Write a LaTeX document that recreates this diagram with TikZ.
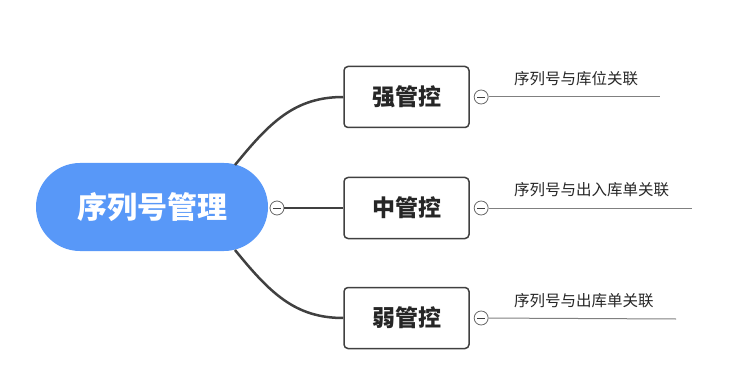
\documentclass[tikz,border=0pt]{standalone}
\usepackage{fontspec}
\setmainfont{Noto Sans CJK SC}
\usetikzlibrary{positioning}
\definecolor{rootblue}{RGB}{88,152,248}
\definecolor{linegray}{RGB}{64,64,64}
\definecolor{leafgray}{RGB}{128,128,128}
\tikzset{
    rootnode/.style={
        fill=rootblue, rounded corners=44pt,
        minimum width=232pt, minimum height=88pt,
        text=white, font=\fontsize{30}{34}\selectfont\bfseries
    },
    topicbox/.style={
        draw=linegray, line width=1.5pt, rounded corners=4pt, fill=white,
        minimum width=125pt, minimum height=61pt,
        text=black!85, font=\fontsize{23}{27}\selectfont\bfseries
    },
    fold/.style={
        circle, draw=linegray!80, line width=0.8pt, fill=white,
        minimum size=14pt, inner sep=0pt,
        path picture={\draw[linegray, line width=0.8pt]
            ([xshift=-4pt]path picture bounding box.center) --
            ([xshift=4pt]path picture bounding box.center);}
    },
    branch/.style={draw=linegray, line width=2.5pt},
    leafline/.style={draw=leafgray, line width=1pt},
    leaftext/.style={font=\fontsize{15.5}{18}\selectfont, text=black!85,
        anchor=south west, inner sep=0pt}
}
\begin{document}
\begin{tikzpicture}[x=1pt, y=-1pt]
    \useasboundingbox (0,0) rectangle (746,366);

    % Centro
    \node[rootnode] (root) at (152,207) {序列号管理};

    % Temas
    \node[topicbox] (strong) at (406.5,97)  {强管控};
    \node[topicbox] (mid)    at (406.5,208) {中管控};
    \node[topicbox] (weak)   at (406.5,318) {弱管控};

    % Ramas
    \coordinate (rtop) at (235,165);
    \coordinate (rbot) at (235,250);
    \draw[branch] (rtop) .. controls (270,122) and (295,97) .. (strong.west);
    \draw[branch] (rbot) .. controls (270,293) and (295,318) .. (weak.west);
    \node[fold] (fmid) at (277,208) {};
    \draw[branch] (fmid) -- (mid.west);

    % Hojas
    \node[fold, right=4pt of strong] (fs) {};
    \node[fold, right=4pt of mid]    (fm) {};
    \node[fold, right=4pt of weak]   (fw) {};
    \coordinate (es) at (660,97);
    \coordinate (em) at (692,208);
    \coordinate (ew) at (676,319);
    \draw[leafline] (fs) -- (es);
    \draw[leafline] (fm) -- (em);
    \draw[leafline] (fw) -- (ew);
    \node[leaftext] (ls) at (514,86)  {序列号与库位关联};
    \node[leaftext] (lm) at (514,197) {序列号与出入库单关联};
    \node[leaftext] (lw) at (514,308) {序列号与出库单关联};
\end{tikzpicture}
\end{document}
